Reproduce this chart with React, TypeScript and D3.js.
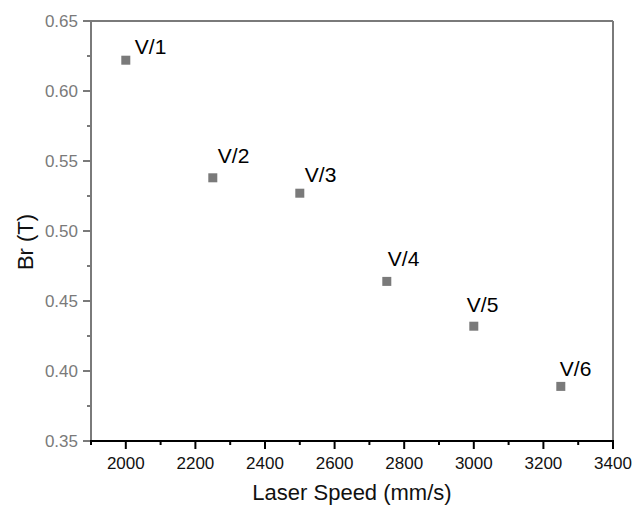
import { useEffect, useRef } from 'react';
import * as d3 from 'd3';

// Br vs laser speed, one square marker per sample
const speeds = [2000, 2250, 2500, 2750, 3000, 3250];
const brValues = [0.622, 0.538, 0.527, 0.464, 0.432, 0.389];
const sampleLabels = ['V/1', 'V/2', 'V/3', 'V/4', 'V/5', 'V/6'];
// hand-placed label offsets (px) relative to the marker, as in the original figure
const labelDx = [9, 5, 5, 1, -7, -1];
const labelDy = [-6, -15, -11, -15, -14, -10];

const xTicks = [2000, 2200, 2400, 2600, 2800, 3000, 3200, 3400];
const yTicks = [0.35, 0.4, 0.45, 0.5, 0.55, 0.6, 0.65];

const W = 633;
const H = 507;
const FONT = 'Liberation Sans, Arial, sans-serif';
const GRAY = '#7a7a7a';

export default function App() {
  const svgRef = useRef<SVGSVGElement | null>(null);

  useEffect(() => {
    document.body.style.margin = '0';
    if (!svgRef.current) return;
    const svg = d3.select(svgRef.current);
    svg.selectAll('*').remove();

    const left = 91, right = 613, top = 21, bottom = 441;

    const x = d3.scaleLinear().domain([1900, 3400]).range([left, right]);
    const y = d3.scaleLinear().domain([0.35, 0.65]).range([bottom, top]);

    // frame: top + right in gray
    svg.append('line')
      .attr('x1', left).attr('x2', right).attr('y1', top).attr('y2', top)
      .attr('stroke', GRAY).attr('stroke-width', 2);
    svg.append('line')
      .attr('x1', right).attr('x2', right).attr('y1', top).attr('y2', bottom)
      .attr('stroke', GRAY).attr('stroke-width', 2);

    // y axis
    const yMinor = d3.range(0.375, 0.65, 0.05);
    svg.append('g').selectAll('line.minor')
      .data(yMinor).join('line')
      .attr('x1', left - 4).attr('x2', left)
      .attr('y1', d => y(d)).attr('y2', d => y(d))
      .attr('stroke', GRAY).attr('stroke-width', 2);
    svg.append('g').selectAll('line.major')
      .data(yTicks).join('line')
      .attr('x1', left - 8).attr('x2', left)
      .attr('y1', d => y(d)).attr('y2', d => y(d))
      .attr('stroke', GRAY).attr('stroke-width', 2);
    svg.append('g').selectAll('text')
      .data(yTicks).join('text')
      .attr('x', left - 13).attr('y', d => y(d))
      .attr('dy', '0.36em')
      .attr('text-anchor', 'end')
      .style('font-family', FONT).style('font-size', '17px')
      .attr('fill', GRAY)
      .text(d => d3.format('.2f')(d));
    svg.append('line')
      .attr('x1', left).attr('x2', left).attr('y1', top - 1).attr('y2', bottom)
      .attr('stroke', GRAY).attr('stroke-width', 2);

    // x axis
    const xMinor = d3.range(1900, 3400, 200);
    svg.append('g').selectAll('line.minor')
      .data(xMinor).join('line')
      .attr('x1', d => x(d)).attr('x2', d => x(d))
      .attr('y1', bottom).attr('y2', bottom + 4)
      .attr('stroke', '#000').attr('stroke-width', 2);
    svg.append('g').selectAll('line.major')
      .data(xTicks).join('line')
      .attr('x1', d => x(d)).attr('x2', d => x(d))
      .attr('y1', bottom).attr('y2', bottom + 8)
      .attr('stroke', '#000').attr('stroke-width', 2);
    svg.append('g').selectAll('text')
      .data(xTicks).join('text')
      .attr('x', d => x(d)).attr('y', 469)
      .attr('text-anchor', 'middle')
      .style('font-family', FONT).style('font-size', '17px')
      .attr('fill', '#111')
      .text(d => String(d));
    svg.append('line')
      .attr('x1', left - 1).attr('x2', right + 1).attr('y1', bottom).attr('y2', bottom)
      .attr('stroke', '#000').attr('stroke-width', 2);

    // titles
    svg.append('text')
      .attr('x', (left + right) / 2).attr('y', 500)
      .attr('text-anchor', 'middle')
      .style('font-family', FONT).style('font-size', '22px')
      .attr('fill', '#111')
      .text('Laser Speed (mm/s)');
    svg.append('text')
      .attr('transform', `translate(33,${(top + bottom) / 2 + 11}) rotate(-90)`)
      .attr('text-anchor', 'middle')
      .style('font-family', FONT).style('font-size', '22px')
      .attr('fill', '#111')
      .text('Br (T)');

    // markers
    const pts = speeds.map((s, i) => ({ s, br: brValues[i], label: sampleLabels[i], i }));
    const size = 9;
    svg.append('g').selectAll('rect')
      .data(pts).join('rect')
      .attr('x', d => x(d.s) - size / 2)
      .attr('y', d => y(d.br) - size / 2)
      .attr('width', size).attr('height', size)
      .attr('fill', GRAY);

    svg.append('g').selectAll('text')
      .data(pts).join('text')
      .attr('x', d => x(d.s) + labelDx[d.i])
      .attr('y', d => y(d.br) + labelDy[d.i])
      .style('font-family', FONT).style('font-size', '21px')
      .attr('fill', '#000')
      .text(d => d.label);
  }, []);

  return (
    <svg ref={svgRef} width={W} height={H}
      style={{ display: 'block', background: '#fff' }} />
  );
}
